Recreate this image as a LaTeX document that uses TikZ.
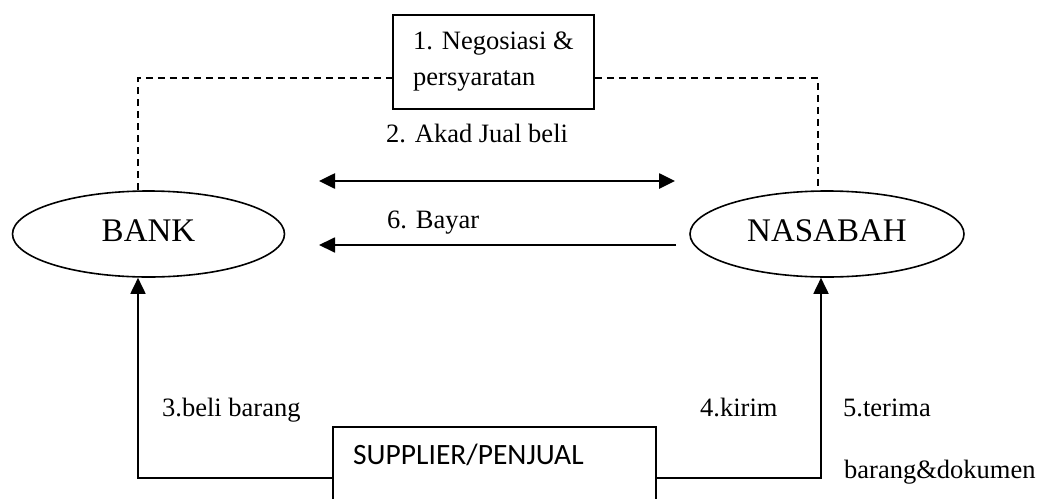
\documentclass[tikz,border=0pt]{standalone}
\usepackage{fontspec}
\setmainfont{Liberation Serif}
\newfontfamily\calib{Carlito}
\usetikzlibrary{shapes.geometric,arrows.meta}
\begin{document}
\begin{tikzpicture}[x=1pt,y=-1pt,
  lbl/.style={anchor=base west,inner sep=0pt,font=\fontsize{26.5}{30}\selectfont},
  oval/.style={ellipse,draw,line width=1.6pt,minimum height=86pt,inner sep=0pt,text depth=6pt,font=\fontsize{33}{38}\selectfont},
  boxed/.style={draw,line width=1.8pt,inner sep=0pt},
  dashline/.style={line width=1.3pt,dash pattern=on 7pt off 5pt},
  conn/.style={line width=1.8pt},
  tip/.style={-{Triangle[width=15pt,length=16pt]}}]
\useasboundingbox (0,0) rectangle (1044,498);
\clip (0,0) rectangle (1044,498);
% nodes
\node[boxed,anchor=north west,minimum width=201pt,minimum height=94pt] (neg) at (392,14) {};
\node[lbl] (t1a) at (413,49) {1. Negosiasi \&};
\node[lbl] (t1b) at (413,85) {persyaratan};
\node[oval,minimum width=272pt] (bank) at (148.5,234) {BANK};
\node[oval,minimum width=274pt] (nas) at (827,234) {NASABAH};
\node[boxed,anchor=north west,minimum width=323pt,minimum height=120pt] (sup) at (332,426) {};
\node[anchor=base west,inner sep=0pt,font=\calib\fontsize{29.5}{34}\selectfont] (supt) at (353,464) {SUPPLIER/PENJUAL};
\node[lbl] (t2) at (386,142) {2. Akad Jual beli};
\node[lbl] (t6) at (387,228) {6. Bayar};
\node[lbl] (t3) at (162,416) {3.beli barang};
\node[lbl] (t4) at (700,416) {4.kirim};
\node[lbl] (t5a) at (843,416) {5.terima};
\node[lbl] (t5b) at (844,478) {barang\&dokumen};
% coordinates
\coordinate (dy) at (0,78);
\coordinate (ly) at (0,478);
\coordinate (a1) at (319,181);
\coordinate (a2) at (675,181);
\coordinate (b1) at (676,245);
\coordinate (b2) at (319,245);
% connectors
\draw[dashline] ([xshift=-10.5pt]bank.north) |- (neg.west |- dy);
\draw[dashline] (neg.east |- dy) -| ([xshift=-9pt]nas.north);
\draw[line width=2.6pt,{Triangle[width=15pt,length=16pt]}-{Triangle[width=15pt,length=16pt]}] (a1) -- (a2);
\draw[conn,tip] (b1) -- (b2);
\draw[conn,tip] (sup.west |- ly) -| ([xshift=-10.5pt]bank.south);
\draw[conn,tip] (sup.east |- ly) -| ([xshift=-6pt]nas.south);
\end{tikzpicture}
\end{document}
